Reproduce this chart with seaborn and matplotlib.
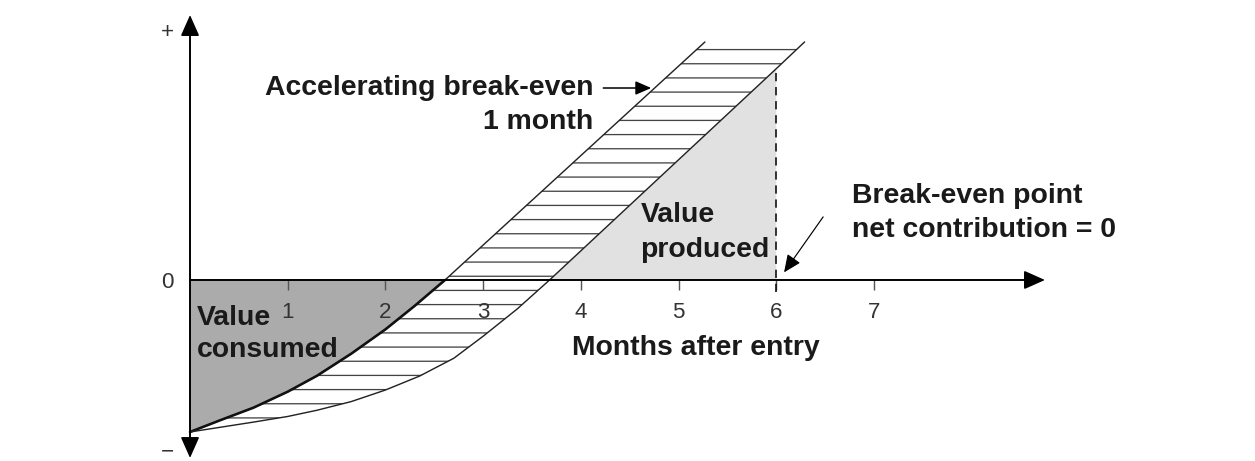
import numpy as np
import seaborn as sns
import matplotlib.pyplot as plt

# months after entry / net value (arbitrary units, 0 = break-even)
fast_x = [0.0, 0.3, 0.65, 1.0, 1.3, 1.65, 2.0, 2.3, 2.61, 5.27]
fast_y = [-1.0, -0.925, -0.84, -0.735, -0.63, -0.485, -0.325, -0.17, 0.0, 1.566]
slow_x = [0.0, 0.3, 0.65, 1.0, 1.3, 1.65, 2.0, 2.35, 2.7, 3.0, 3.35, 3.68, 6.0, 6.29]
slow_y = [-1.0, -0.97, -0.935, -0.898, -0.857, -0.80, -0.724, -0.632, -0.515, -0.37, -0.19, 0.0, 1.39, 1.566]
months = [1, 2, 3, 4, 5, 6, 7]
month_labels = ['1', '2', '3', '4', '5', '6', '7']
y_marks = [-1.118, 0, 1.645]
y_labels = ['\u2212', '0', '+']
break_even = 6

sns.set_style('white')
plt.rcParams['font.family'] = ['Liberation Sans', 'DejaVu Sans']
plt.rcParams['hatch.linewidth'] = 1.1
plt.rcParams['hatch.color'] = '#444444'

fig = plt.figure(figsize=(1255 / 85, 461 / 85), dpi=85)
ax = fig.add_axes([0, 0, 1, 1])
ax.set_xlim(-1.945, 10.9)
ax.set_ylim(-1.191, 1.842)
ax.set_axisbelow(False)

# shaded areas
n0 = fast_y.index(0.0) + 1
ax.fill(fast_x[:n0] + [0], fast_y[:n0] + [0], color='#ababab', lw=0, zorder=1)
s0 = slow_y.index(0.0)
s6 = slow_x.index(break_even) + 1
ax.fill(slow_x[s0:s6] + [break_even], slow_y[s0:s6] + [0], color='#e1e1e1', lw=0, zorder=1)
ax.fill(fast_x + slow_x[::-1], fast_y + slow_y[::-1], facecolor='none',
        edgecolor='#444444', hatch='-', lw=0, zorder=2)

# curves
sns.lineplot(x=fast_x, y=fast_y, ax=ax, color='#222222', lw=1.2, zorder=4)
sns.lineplot(x=fast_x[:n0], y=fast_y[:n0], ax=ax, color='#111111', lw=2.2, zorder=4)
sns.lineplot(x=slow_x, y=slow_y, ax=ax, color='#222222', lw=1.2, zorder=4)
ax.plot([break_even, break_even], [-0.08, slow_y[s6 - 1]], color='#111111',
        lw=1.4, ls=(0, (5, 3.5)), zorder=4)

# axes with arrows
for s in ['top', 'right']:
    ax.spines[s].set_visible(False)
ax.spines['left'].set_position(('data', 0))
ax.spines['bottom'].set_position(('data', 0))
ax.spines['left'].set_bounds(-1.15, 1.72)
ax.spines['bottom'].set_bounds(0, 8.7)
for s in ['left', 'bottom']:
    ax.spines[s].set_linewidth(1.4)
    ax.spines[s].set_color('black')
    ax.spines[s].set_zorder(5)
head = '-|>,head_length=0.9,head_width=0.4'
for tip in [(0, 1.743), (0, -1.171), (8.75, 0)]:
    ax.annotate('', xy=tip, xytext=(0, 0), zorder=6,
                arrowprops=dict(arrowstyle=head, mutation_scale=17, color='black', lw=1.4,
                                shrinkA=0, shrinkB=0))

ax.set_xticks(months, month_labels)
ax.tick_params(axis='x', direction='out', length=8.5, width=1.2, color='#555555',
               labelcolor='#333333', labelsize=19, pad=10, bottom=True)
ax.set_yticks(y_marks, y_labels)
ax.tick_params(axis='y', length=0, labelcolor='#333333', labelsize=19, pad=14, left=True)

# annotations
tkw = dict(fontsize=24, fontweight='bold', color='#1a1a1a', zorder=7)
ax.text(4.125, 1.263, 'Accelerating break-even', ha='right', va='center', **tkw)
ax.text(4.125, 1.039, '1 month', ha='right', va='center', **tkw)
ax.annotate('', xy=(4.72, 1.263), xytext=(4.23, 1.263), zorder=7,
            arrowprops=dict(arrowstyle='-|>,head_length=0.8,head_width=0.35',
                            mutation_scale=14, color='black', lw=1.3, shrinkA=0, shrinkB=0))
ax.text(4.61, 0.428, 'Value', ha='left', va='center', **tkw)
ax.text(4.61, 0.197, 'produced', ha='left', va='center', **tkw)
ax.text(6.78, 0.553, 'Break-even point', ha='left', va='center', **tkw)
ax.text(6.78, 0.329, 'net contribution = 0', ha='left', va='center', **tkw)
ax.annotate('', xy=(6.08, 0.05), xytext=(6.48, 0.415), zorder=7,
            arrowprops=dict(arrowstyle='-|>,head_length=0.9,head_width=0.4',
                            mutation_scale=14, color='black', lw=1.0, shrinkA=0, shrinkB=0))
ax.text(0.07, -0.25, 'Value', ha='left', va='center', **tkw)
ax.text(0.07, -0.46, 'consumed', ha='left', va='center', **tkw)
ax.text(3.91, -0.447, 'Months after entry', ha='left', va='center', **tkw)

fig.savefig('out.png', dpi=85)
